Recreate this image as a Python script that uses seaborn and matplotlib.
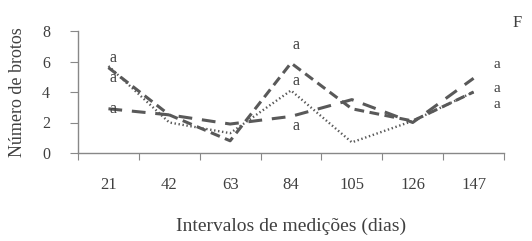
import matplotlib
matplotlib.use("Agg")
import matplotlib.pyplot as plt
import seaborn as sns
import pandas as pd
import numpy as np

dias = ["21", "42", "63", "84", "105", "126", "147"]
serie_tracejada = [5.6, 2.5, 0.8, 5.9, 2.9, 2.1, 4.0]
serie_pontilhada = [5.7, 2.0, 1.3, 4.1, 0.7, 2.1, 4.0]
serie_longa = [2.9, 2.5, 1.9, 2.4, 3.5, 2.0, 4.9]

letras_21 = [(6.2, "a"), (4.9, "a"), (2.9, "a")]
letras_84 = [(7.1, "a"), (4.7, "a"), (1.8, "a")]
letras_147 = [(5.8, "a"), (4.25, "a"), (3.15, "a")]

sns.set_style("white")
plt.rcParams["font.family"] = ["Liberation Serif", "DejaVu Serif"]

cor_texto = "#404040"
cor_linha = "#595959"

df = pd.DataFrame({
    "x": np.arange(len(dias)),
    "tracejada": serie_tracejada,
    "pontilhada": serie_pontilhada,
    "longa": serie_longa,
})

fig = plt.figure(figsize=(5.32, 2.41), dpi=100)
ax = fig.add_axes([78 / 532, 1 - 153 / 241, (504 - 78) / 532, (153 - 31) / 241])

sns.lineplot(data=df, x="x", y="tracejada", ax=ax, color=cor_linha, lw=2.2,
             linestyle=(0, (3.2, 1.8)))
sns.lineplot(data=df, x="x", y="pontilhada", ax=ax, color=cor_linha, lw=1.7,
             linestyle=(0, (0.6, 1.1)))
sns.lineplot(data=df, x="x", y="longa", ax=ax, color=cor_linha, lw=2.2,
             linestyle=(0, (4.5, 3.2)))

for y, t in letras_21:
    ax.text(0.08, y, t, ha="center", va="center", fontsize=11.5, color=cor_texto)
for y, t in letras_84:
    ax.text(3.08, y, t, ha="center", va="center", fontsize=11.5, color=cor_texto)
for y, t in letras_147:
    ax.text(6.38, y, t, ha="center", va="center", fontsize=11, color=cor_texto,
            clip_on=False)

ax.set_xlim(-0.5, 6.5)
ax.set_ylim(0, 8)
ax.set_yticks([0, 2, 4, 6, 8])
ax.set_xticks(np.arange(-0.5, 7, 1))
ax.set_xticklabels([])
ax.set_xticks(np.arange(len(dias)), minor=True)
ax.set_xticklabels(dias, minor=True)

for s in ["top", "right"]:
    ax.spines[s].set_visible(False)
for s in ["left", "bottom"]:
    ax.spines[s].set_color("#888888")
    ax.spines[s].set_linewidth(1.0)

ax.tick_params(axis="x", which="major", direction="out", length=5, color="#888888", bottom=True)
ax.tick_params(axis="x", which="minor", length=0, pad=17, labelsize=12, labelcolor=cor_texto)
ax.tick_params(axis="y", direction="out", length=6, color="#888888", left=True,
               labelsize=11.5, labelcolor=cor_texto, pad=14)

ax.set_xlabel("Intervalos de medições (dias)", fontsize=14, color=cor_texto, labelpad=18)
ax.set_ylabel("Número de brotos", fontsize=13, color=cor_texto, labelpad=12)

fig.text(517 / 532, 1 - 23 / 241, "F", ha="center", va="center", fontsize=12, color=cor_texto)

fig.savefig("out.png", dpi=100)
